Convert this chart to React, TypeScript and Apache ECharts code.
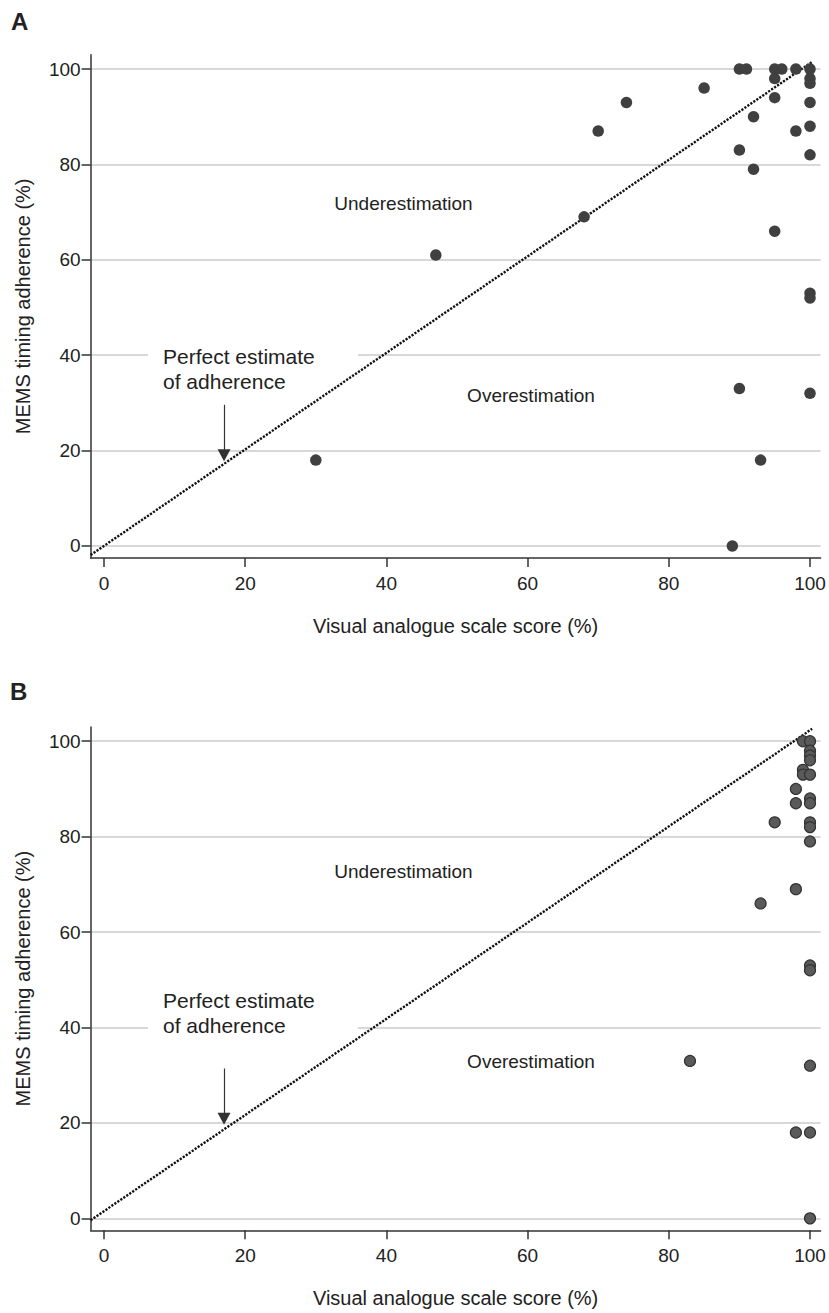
import React, { useEffect, useRef } from 'react';
import * as echarts from 'echarts';

// Tick values shared by both axes
const tickValues = [0, 20, 40, 60, 80, 100];

// Panel A: visual analogue scale score vs MEMS timing adherence
const vasA = [30, 47, 68, 70, 74, 85, 89, 90, 91, 90, 90, 92, 92, 93, 95, 95, 95, 95, 96, 98, 98, 100, 100, 100, 100, 100, 100, 100, 100, 100];
const memsA = [18, 61, 69, 87, 93, 96, 0, 100, 100, 83, 33, 90, 79, 18, 100, 98, 94, 66, 100, 100, 87, 100, 98, 97, 93, 88, 82, 53, 52, 32];

// Panel B
const vasB = [99, 100, 100, 100, 100, 99, 99, 100, 98, 98, 100, 100, 95, 100, 100, 100, 98, 93, 100, 100, 83, 100, 98, 100, 100];
const memsB = [100, 100, 98, 97, 96, 94, 93, 93, 90, 87, 88, 87, 83, 83, 82, 79, 69, 66, 53, 52, 33, 32, 18, 18, 0];

// Perfect-estimate reference lines (endpoints)
const refX = [-1.9, 100.3];
const refYA = [-1.9, 101.5];
const refYB = [-0.4, 102.6];

// Annotation arrows (x, y start, y end)
const arrowX = 17;
const arrowA = [29.6, 19];
const arrowB = [31.4, 20.9];

const FONT = '"Liberation Sans", Arial, Helvetica, sans-serif';
const TXT = '#222';

export default function App() {
  const ref = useRef<HTMLDivElement>(null);

  useEffect(() => {
    document.body.style.margin = '0';
    if (!ref.current) return;
    const chart = echarts.init(ref.current, undefined, { renderer: 'svg' });

    const xAxisCfg = (gridIndex: number) => ({
      type: 'value',
      gridIndex,
      min: -1.9,
      max: 101.5,
      name: 'Visual analogue scale score (%)',
      nameLocation: 'middle',
      nameGap: 58,
      nameTextStyle: { fontSize: 20, color: TXT, fontFamily: FONT },
      axisLine: { show: true, onZero: false, lineStyle: { color: '#333', width: 1.5 } },
      axisTick: { show: true, length: 9, customValues: tickValues, lineStyle: { color: '#333', width: 1.5 } },
      axisLabel: { customValues: tickValues, fontSize: 19, color: TXT, margin: 16, fontFamily: FONT },
      splitLine: { show: false },
    });

    const yAxisCfg = (gridIndex: number) => ({
      type: 'value',
      gridIndex,
      min: -2.5,
      max: 103,
      name: 'MEMS timing adherence (%)',
      nameLocation: 'middle',
      nameGap: 58,
      nameTextStyle: { fontSize: 20, color: TXT, fontFamily: FONT },
      axisLine: { show: true, onZero: false, lineStyle: { color: '#333', width: 1.5 } },
      axisTick: { show: true, length: 9, customValues: tickValues, lineStyle: { color: '#333', width: 1.5 } },
      axisLabel: { customValues: tickValues, fontSize: 19, color: TXT, margin: 10, fontFamily: FONT },
      splitLine: { show: true, lineStyle: { color: '#cbcbcb', width: 1.5 } },
    });

    const zipPts = (xs: number[], ys: number[]) => xs.map((x, i) => [x, ys[i]]);

    const arrowMark = (ys: number[]) => ({
      silent: true,
      symbol: ['none', 'triangle'],
      symbolSize: [13, 12],
      label: { show: false },
      lineStyle: { color: '#333', width: 1.2, type: 'solid' },
      itemStyle: { color: '#1a1a1a' },
      data: [[{ coord: [arrowX, ys[0]] }, { coord: [arrowX, ys[1]] }]],
    });

    const gapRect = (y: number) => ({
      type: 'rect',
      z: 1,
      shape: { x: 148, y: y - 4, width: 210, height: 8 },
      style: { fill: '#fff' },
      silent: true,
    });

    const txt = (text: string, x: number, y: number, size: number, align = 'left', weight = 'normal') => ({
      type: 'text',
      z: 5,
      x,
      y,
      style: {
        text,
        fill: TXT,
        fontSize: size,
        fontFamily: FONT,
        fontWeight: weight,
        textAlign: align,
        textVerticalAlign: 'middle',
      },
      silent: true,
    });

    chart.setOption({
      animation: false,
      backgroundColor: '#fff',
      grid: [
        { left: 90.6, top: 54.7, width: 730, height: 503.2 },
        { left: 90.6, top: 726.9, width: 730, height: 503.4 },
      ],
      xAxis: [xAxisCfg(0), xAxisCfg(1)],
      yAxis: [yAxisCfg(0), yAxisCfg(1)],
      series: [
        {
          type: 'line',
          xAxisIndex: 0,
          yAxisIndex: 0,
          data: zipPts(refX, refYA),
          symbol: 'none',
          silent: true,
          z: 3,
          lineStyle: { color: '#111', width: 2.4, type: [2.2, 1.4] },
          markLine: arrowMark(arrowA),
        },
        {
          type: 'scatter',
          xAxisIndex: 0,
          yAxisIndex: 0,
          data: zipPts(vasA, memsA),
          symbolSize: 11.5,
          z: 4,
          itemStyle: { color: '#404040', opacity: 1 },
        },
        {
          type: 'line',
          xAxisIndex: 1,
          yAxisIndex: 1,
          data: zipPts(refX, refYB),
          symbol: 'none',
          silent: true,
          z: 3,
          lineStyle: { color: '#111', width: 2.4, type: [2.2, 1.4] },
          markLine: arrowMark(arrowB),
        },
        {
          type: 'scatter',
          xAxisIndex: 1,
          yAxisIndex: 1,
          data: zipPts(vasB, memsB),
          symbolSize: 11,
          z: 4,
          itemStyle: { color: '#5a5a5a', borderColor: '#333', borderWidth: 1.2, opacity: 1 },
        },
      ],
      graphic: [
        gapRect(355.5),
        gapRect(1027),
        txt('A', 11, 21, 24, 'left', 'bold'),
        txt('B', 10, 691, 24, 'left', 'bold'),
        txt('Underestimation', 403.5, 203.5, 19, 'center'),
        txt('Overestimation', 531, 395.5, 19, 'center'),
        txt('Perfect estimate', 163, 356, 21),
        txt('of adherence', 163, 381, 21),
        txt('Underestimation', 403.5, 871, 19, 'center'),
        txt('Overestimation', 531, 1061, 19, 'center'),
        txt('Perfect estimate', 163, 1000, 21),
        txt('of adherence', 163, 1025, 21),
      ],
    });

    return () => chart.dispose();
  }, []);

  return <div ref={ref} style={{ width: 829, height: 1313 }} />;
}
